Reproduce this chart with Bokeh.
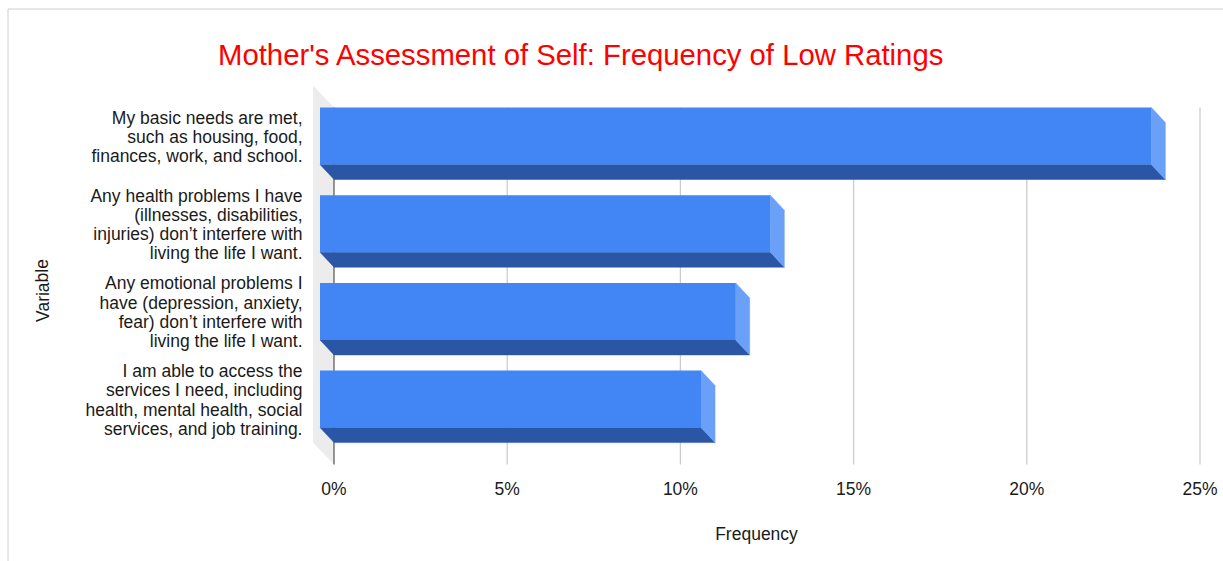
from bokeh.plotting import figure
from bokeh.models import Range1d
from bokeh.core.properties import value
from bokeh.embed import file_html
from bokeh.resources import INLINE

# ---- data -------------------------------------------------------------
categories = [
    "My basic needs are met,\nsuch as housing, food,\nfinances, work, and school.",
    "Any health problems I have\n(illnesses, disabilities,\ninjuries) don\u2019t interfere with\nliving the life I want.",
    "Any emotional problems I\nhave (depression, anxiety,\nfear) don\u2019t interfere with\nliving the life I want.",
    "I am able to access the\nservices I need, including\nhealth, mental health, social\nservices, and job training.",
]
frequency_pct = [24, 13, 12, 11]
tick_values = [0, 5, 10, 15, 20, 25]
tick_labels = ["0%", "5%", "10%", "15%", "20%", "25%"]

TITLE = "Mother's Assessment of Self: Frequency of Low Ratings"
X_TITLE = "Frequency"
Y_TITLE = "Variable"

# ---- geometry ---------------------------------------------------------
W, H = 1223, 561
X0_PX, PX_PER_PCT = 333.5, 34.64      # back-plane zero and scale
Y0_PX, PX_PER_SLOT = 107.0, 87.7      # top of the first bar, slot pitch


def px_x(px):
    return (px - X0_PX) / PX_PER_PCT


def px_y(py):
    return (py - Y0_PX) / PX_PER_SLOT


BAR_H = 57 / PX_PER_SLOT               # front face height
DX = 14 / PX_PER_PCT                   # bar depth, horizontal
DY = 15 / PX_PER_SLOT                  # bar depth, vertical
WALL_DX = 21 / PX_PER_PCT
WALL_DY = 22 / PX_PER_SLOT
PLANE_BOTTOM = px_y(464)

FRONT = "#4285f4"
SIDE = "#6aa0f7"
BOTTOM = "#2b56a6"
WALL = "#ececec"
GRID = "#cccccc"
TEXT = "#1a1a1a"
FONT = value("Liberation Sans")

p = figure(width=W, height=H, output_backend="svg", toolbar_location=None,
           x_axis_location=None, y_axis_location=None,
           x_range=Range1d(px_x(0), px_x(W)), y_range=Range1d(px_y(H), px_y(0)),
           min_border=0, min_border_left=0, min_border_right=0,
           min_border_top=0, min_border_bottom=0)
p.grid.visible = False
p.outline_line_color = None
p.background_fill_color = "white"
p.border_fill_color = "white"

# card border (left and top edges)
p.segment(x0=[px_x(7.5), px_x(7.5)], y0=[px_y(8.5), px_y(8.5)],
          x1=[px_x(7.5), px_x(W + 5)], y1=[px_y(H + 5), px_y(8.5)],
          line_color="#d0d0d0", line_width=1)

# left wall of the 3D plot area
p.patch(x=[-WALL_DX, 0, 0, -WALL_DX],
        y=[-WALL_DY, 0, PLANE_BOTTOM, PLANE_BOTTOM - WALL_DY],
        fill_color=WALL, line_color=None)

# vertical grid lines on the back plane
grid_x = [t for t in tick_values if t > 0]
p.segment(x0=grid_x, y0=[0] * len(grid_x), x1=grid_x, y1=[PLANE_BOTTOM] * len(grid_x),
          line_color=GRID, line_width=1.3)

# category axis line
p.segment(x0=[0], y0=[0], x1=[0], y1=[PLANE_BOTTOM], line_color="#333333", line_width=1)

# 3D bars: bottom face, right face, front face
n = len(frequency_pct)
tops = [float(i) for i in range(n)]
bottom_xs, bottom_ys, side_xs, side_ys = [], [], [], []
for t, v in zip(tops, frequency_pct):
    b = t + BAR_H
    bottom_xs.append([-DX, v - DX, v, 0])
    bottom_ys.append([b, b, b + DY, b + DY])
    side_xs.append([v - DX, v, v, v - DX])
    side_ys.append([t, t + DY, b + DY, b])

p.patches(xs=bottom_xs, ys=bottom_ys, fill_color=BOTTOM, line_color=BOTTOM, line_width=0.5)
p.patches(xs=side_xs, ys=side_ys, fill_color=SIDE, line_color=SIDE, line_width=0.5)
p.quad(left=[-DX] * n, right=[v - DX for v in frequency_pct],
       top=tops, bottom=[t + BAR_H for t in tops],
       fill_color=FRONT, line_color=None)

# category labels
p.text(x=[px_x(302)] * n, y=[t + BAR_H / 2 + 0.01 for t in tops], text=categories,
       text_align="right", text_baseline="middle", text_font=FONT,
       text_font_size="17.5px", text_line_height=0.96, text_color=TEXT)

# percentage tick labels
p.text(x=tick_values, y=[px_y(488)] * len(tick_values), text=tick_labels,
       text_align="center", text_baseline="alphabetic", text_font=FONT,
       text_font_size="17.5px", text_color=TEXT)

# axis titles
p.text(x=[px_x(756)], y=[px_y(533)], text=[X_TITLE], text_align="center",
       text_baseline="alphabetic", text_font=FONT, text_font_size="17.5px",
       text_color=TEXT)
p.text(x=[px_x(42)], y=[px_y(290)], text=[Y_TITLE], angle=1.5708,
       text_align="center", text_baseline="alphabetic", text_font=FONT,
       text_font_size="17.5px", text_color=TEXT)

# chart title
p.text(x=[px_x(581)], y=[px_y(54)], text=[TITLE], text_align="center",
       text_baseline="alphabetic", text_font=FONT, text_font_size="29.3px",
       text_color="#ff0000")

open("out.html", "w").write(file_html(p, INLINE))
